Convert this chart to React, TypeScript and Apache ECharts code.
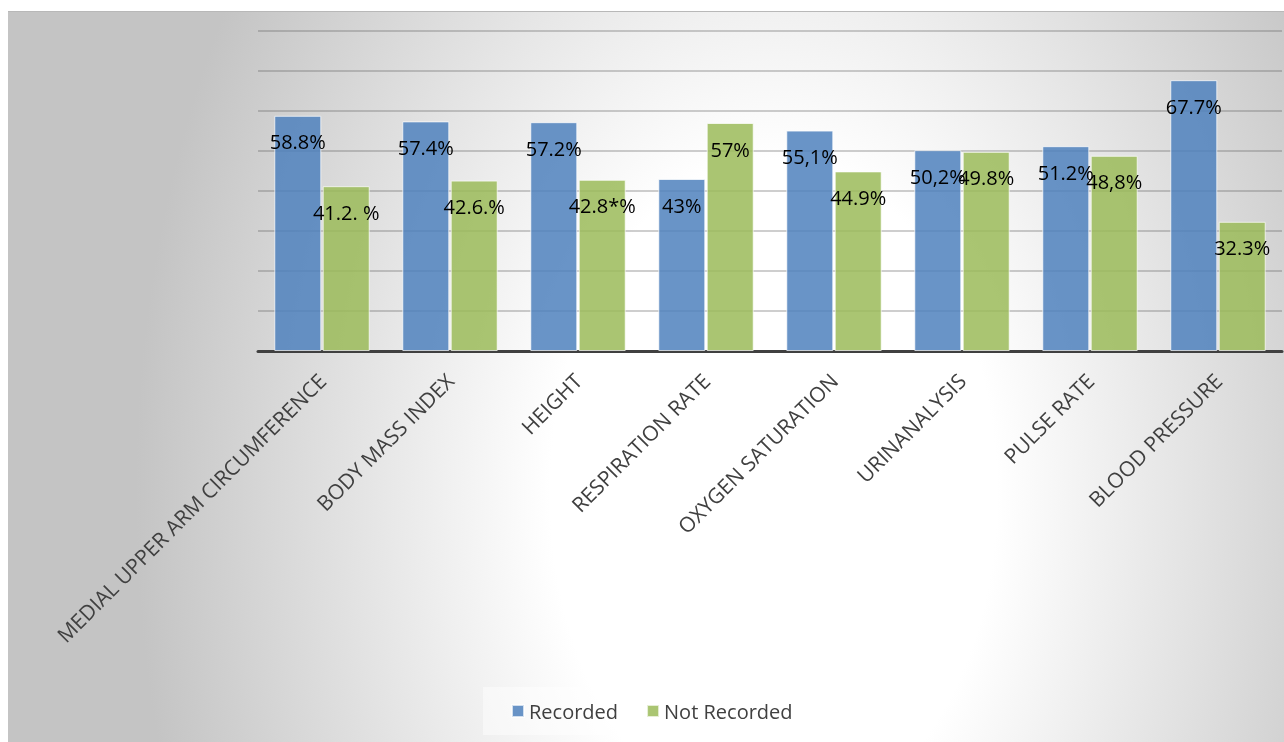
import React, { useEffect, useRef } from "react";
import * as echarts from "echarts";

const categories = [
  "MEDIAL UPPER ARM CIRCUMFERENCE",
  "BODY MASS INDEX",
  "HEIGHT",
  "RESPIRATION RATE",
  "OXYGEN SATURATION",
  "URINANALYSIS",
  "PULSE RATE",
  "BLOOD PRESSURE",
];
const recorded = [58.8, 57.4, 57.2, 43, 55.1, 50.2, 51.2, 67.7];
const notRecorded = [41.2, 42.6, 42.8, 57, 44.9, 49.8, 48.8, 32.3];
const recordedLabels = ["58.8%", "57.4%", "57.2%", "43%", "55,1%", "50,2%", "51.2%", "67.7%"];
const notRecordedLabels = ["41.2. %", "42.6.%", "42.8*%", "57%", "44.9%", "49.8%", "48,8%", "32.3%"];
const seriesNames = ["Recorded", "Not Recorded"];

export default function App() {
  const ref = useRef<HTMLDivElement>(null);
  useEffect(() => {
    if (!ref.current) return;
    const chart = echarts.init(ref.current, undefined, { renderer: "svg" });
    const font = "'Open Sans', sans-serif";
    const labelStyle = (texts: string[]) => ({
      show: true,
      position: "insideTop" as const,
      distance: 16,
      color: "#000",
      fontSize: 20,
      fontFamily: font,
      formatter: (p: any) => texts[p.dataIndex],
    });
    chart.setOption({
      animation: false,
      backgroundColor: "transparent",
      textStyle: { fontFamily: font },
      grid: { left: 250, right: 2, top: 19, bottom: 391, containLabel: false },
      legend: {
        data: seriesNames,
        left: 475,
        top: 675,
        padding: [14, 20, 14, 28],
        backgroundColor: "rgba(255,255,255,0.45)",
        itemWidth: 12,
        itemHeight: 12,
        itemGap: 28,
        icon: "rect",
        textStyle: { color: "#404040", fontSize: 20, fontFamily: font },
      },
      xAxis: {
        type: "category",
        data: categories,
        axisTick: { show: false },
        axisLine: { lineStyle: { color: "#404040", width: 3 } },
        axisLabel: {
          interval: 0,
          rotate: 45,
          margin: 26,
          color: "#404040",
          fontSize: 21,
          fontFamily: font,
        },
      },
      yAxis: {
        type: "value",
        min: 0,
        max: 80,
        interval: 10,
        axisLabel: { show: false },
        axisLine: { show: false },
        axisTick: { show: false },
        splitLine: { lineStyle: { color: "rgba(90,90,90,0.4)", width: 1.5 } },
      },
      series: [
        {
          name: seriesNames[0],
          type: "bar",
          data: recorded,
          barWidth: 47,
          barGap: "3%",
          itemStyle: {
            color: "rgba(79,129,189,0.85)",
            borderColor: "rgba(255,255,255,0.7)",
            borderWidth: 1,
          },
          label: labelStyle(recordedLabels),
        },
        {
          name: seriesNames[1],
          type: "bar",
          data: notRecorded,
          barWidth: 47,
          itemStyle: {
            color: "rgba(155,187,89,0.85)",
            borderColor: "rgba(255,255,255,0.7)",
            borderWidth: 1,
          },
          label: labelStyle(notRecordedLabels),
        },
      ],
    });
    return () => chart.dispose();
  }, []);
  return (
    <div
      ref={ref}
      style={{
        position: "fixed",
        left: 8,
        top: 11,
        width: 1276,
        height: 731,
        borderTop: "1px solid #b8b8b8",
        boxSizing: "border-box",
        background:
          "radial-gradient(ellipse 50% 130% at 60% 66%, #ffffff 0%, #ffffff 35%, #c4c4c4 100%)",
      }}
    />
  );
}
